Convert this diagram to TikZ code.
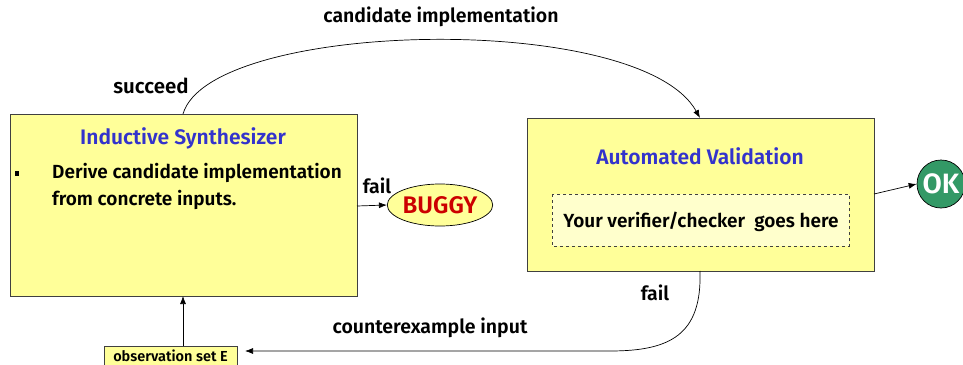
\documentclass[tikz,border=0pt]{standalone}
\usepackage{fontspec}
\setmainfont{Fira Sans}[BoldFont={Fira Sans SemiBold}]
\usetikzlibrary{shapes.geometric,arrows.meta}
\definecolor{boxyellow}{HTML}{FFFF99}
\definecolor{lightyellow}{HTML}{FFFFCC}
\definecolor{titleblue}{HTML}{3333CC}
\definecolor{buggyred}{HTML}{CC0000}
\definecolor{okgreen}{HTML}{339966}
\definecolor{edgegray}{HTML}{404040}
\tikzset{
  x=1pt, y=-1pt,
  bigbox/.style={draw=edgegray, fill=boxyellow, line width=1pt},
  lbl/.style={font=\bfseries\fontsize{19.5}{22}\selectfont, text=black, inner sep=0pt},
  title/.style={font=\bfseries\fontsize{21}{24}\selectfont, text=titleblue, inner sep=0pt},
  conn/.style={draw=black, line width=0.7pt, -{Latex[length=8pt,width=6pt]}},
}
\begin{document}
\begin{tikzpicture}
\useasboundingbox (0,0) rectangle (963,364);
% boxes
\draw[bigbox] (10,114) rectangle (357,296);
\node (syn) at (183.5,205) [minimum width=347, minimum height=182, inner sep=0pt] {};
\node[title] (syntitle) at (183,138) {Inductive Synthesizer};
\fill (15,171) rectangle (19,176);
\node[lbl, anchor=west, align=left, font=\bfseries\fontsize{19}{27}\selectfont] (syntext) at (52,186) {Derive candidate implementation\\from concrete inputs.};

\draw[bigbox] (527,118) rectangle (874,271);
\node (val) at (700.5,194.5) [minimum width=347, minimum height=153, inner sep=0pt] {};
\node[title] (valtitle) at (700,156) {Automated Validation};
\draw[dashed, draw=edgegray, fill=lightyellow, line width=0.6pt] (552,194) rectangle (849,246);
\node[lbl, font=\bfseries\fontsize{19}{22}\selectfont] (ver) at (701,222) {Your verifier/checker\ \ goes here};

\node[ellipse, draw=black, fill=boxyellow, line width=0.7pt, minimum width=98, minimum height=42, inner sep=0pt,
      font=\bfseries\fontsize{24}{26}\selectfont, text=buggyred] (buggy) at (440,205) {BUGGY};
\node[circle, draw=black, fill=okgreen, line width=0.7pt, minimum size=48, inner sep=0pt,
      font=\bfseries\fontsize{28}{30}\selectfont, text=white] (ok) at (941,184) {OK};

\node[draw=edgegray, fill=boxyellow, line width=0.8pt, minimum width=133, minimum height=20, inner sep=0pt,
      font=\bfseries\fontsize{14.5}{16}\selectfont] (obs) at (170.5,356) {observation set E};

% connectors
\coordinate (synTop) at (183,114);
\coordinate (valTop) at (700,118);
\draw[conn] (synTop) .. controls (210,20) and (640,10) .. (valTop);
\node[lbl] (cand) at (441,17) {candidate implementation};
\node[lbl, font=\bfseries\fontsize{20.5}{22}\selectfont] (succ) at (151,86) {succeed};

\coordinate (synRight) at (357,206);
\draw[conn] (synRight) -- (buggy.west);
\node[lbl] (fail1) at (377,186) {fail};

\coordinate (valRight) at (874,194);
\draw[conn] (valRight) -- (ok.west);

\coordinate (valBot) at (700,271);
\coordinate (bend) at (610,351);
\coordinate (obsIn) at (245,351);
\draw[conn] (valBot) .. controls (702,335) and (670,351) .. (bend) -- (obsIn);
\node[lbl] (fail2) at (655,293) {fail};
\node[lbl] (cex) at (430,328) {counterexample input};

\coordinate (obsTop) at (183,346);
\coordinate (synBot) at (183,296);
\draw[conn] (obsTop) -- (synBot);
\end{tikzpicture}
\end{document}
